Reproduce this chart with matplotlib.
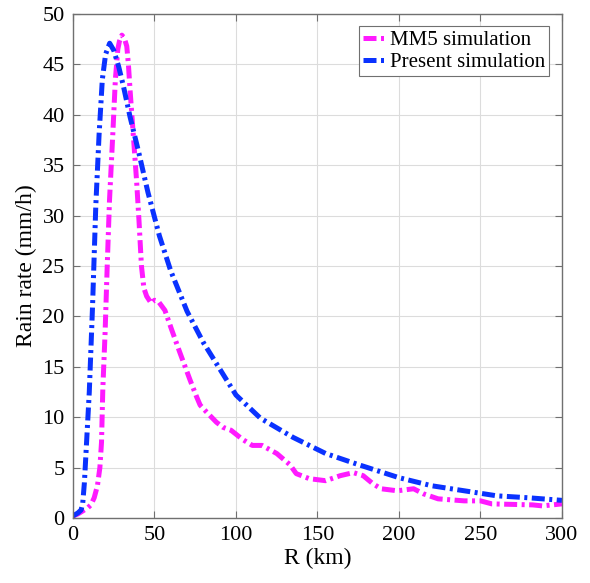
import matplotlib
matplotlib.use('Agg')
import matplotlib.pyplot as plt

# MM5 simulation (magenta)
mm5_r = [0, 3, 6, 9, 11, 13, 15, 16.5, 17.5, 18.3, 19.7, 21, 22.4, 24.4, 26, 27.5,
         28.5, 30, 31.5, 33, 34, 35, 37, 39, 40.5, 42, 43.5, 45.2, 48, 50, 52.3, 56.4,
         60.5, 65.6, 71.8, 75.9, 78, 82, 88, 92, 97, 104, 110, 116, 125, 133, 137,
         145, 155, 164, 172, 178, 184, 189, 199, 209, 215, 224, 240, 250, 257, 282,
         288, 300]
mm5_rain = [0.2, 0.4, 0.7, 1.0, 1.3, 2.0, 3.2, 5.0, 7.5, 12.8, 18.4, 25, 31.5, 38,
            43.5, 46.5, 47.3, 47.9, 47.6, 46.8, 45.0, 42.5, 38.0, 33.5, 29.5, 25.0,
            22.8, 22.0, 21.3, 21.6, 21.5, 20.6, 18.7, 16.4, 13.7, 12.0, 11.2, 10.5,
            9.5, 9.0, 8.7, 7.8, 7.2, 7.2, 6.4, 5.3, 4.4, 3.9, 3.7, 4.2, 4.5, 4.2,
            3.4, 2.9, 2.7, 2.9, 2.4, 1.9, 1.7, 1.7, 1.4, 1.3, 1.2, 1.4]

# Present simulation (blue)
pres_r = [0, 3, 5, 6, 7, 8, 10, 12, 14, 16, 18, 20, 22.5, 25, 28, 31, 35, 40, 46,
          53, 60, 70, 80, 90, 100, 115, 135, 155, 175, 200, 220, 240, 260, 280, 300]
pres_rain = [0.2, 0.5, 0.8, 1.5, 3.5, 6.5, 12.5, 21, 31, 38, 43.5, 46, 47.1, 46.4,
             44.8, 42.8, 39.8, 36.5, 32.3, 28, 24.5, 20.5, 17.4, 14.8, 12.2, 9.9,
             8.0, 6.4, 5.3, 4.0, 3.2, 2.7, 2.2, 2.0, 1.75]

plt.rcParams['font.family'] = ['Liberation Serif', 'DejaVu Serif']

fig = plt.figure(figsize=(5.90, 5.83), dpi=100)
ax = fig.add_axes([0.1237, 0.1115, 0.8288, 0.8645])

dash = (2.6, 0.9, 0.6, 0.9)
ax.plot(mm5_r, mm5_rain, color='#ff1aff', lw=3.6, dashes=dash, label='MM5 simulation')
ax.plot(pres_r, pres_rain, color='#0a32ff', lw=3.6, dashes=dash, label='Present simulation')

ax.set_xlim(0, 300)
ax.set_ylim(0, 50)
ax.set_xticks(range(0, 301, 50))
ax.set_yticks(range(0, 51, 5))
ax.grid(True, color='#dcdcdc', lw=0.8)
ax.set_axisbelow(True)

for s in ax.spines.values():
    s.set_color('#707070')
    s.set_linewidth(1.0)
ax.tick_params(direction='in', top=True, right=True, length=5, width=0.8,
               color='#707070', labelsize=16, pad=6)

ax.set_xlabel('R (km)', fontsize=17, labelpad=2)
ax.set_ylabel('Rain rate (mm/h)', fontsize=17, labelpad=4)

leg = ax.legend(loc='upper right', fontsize=15, fancybox=False, edgecolor='#707070',
                framealpha=1, borderaxespad=0.6, handlelength=1.15, handletextpad=0.15,
                borderpad=0.2, labelspacing=0.1)
leg.get_frame().set_linewidth(0.8)

fig.savefig('out.png', dpi=100)
